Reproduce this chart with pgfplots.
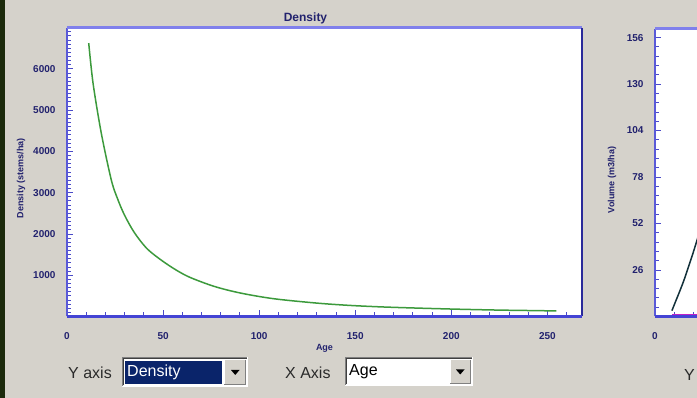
\documentclass[border=0pt]{standalone}
\usepackage{fontspec}
\setmainfont{Liberation Sans}
\usepackage{pgfplots}
\pgfplotsset{compat=1.18}
\definecolor{bg}{HTML}{D5D2CB}
\definecolor{darkstrip}{HTML}{1C2A0C}
\definecolor{navy}{HTML}{22226E}
\definecolor{tickblue}{HTML}{4A4AC8}
\definecolor{frametop}{HTML}{8080EC}
\definecolor{frameleft}{HTML}{5A5AD8}
\definecolor{framebottom}{HTML}{4444D4}
\definecolor{frameright}{HTML}{2A2A9A}
\definecolor{curvegreen}{HTML}{3C9A3C}
\definecolor{curvedark}{HTML}{12303A}
\definecolor{curvemag}{HTML}{C020C8}
\definecolor{selnavy}{HTML}{0A246A}
\definecolor{uitext}{HTML}{2A2A2A}
\definecolor{btnshadow}{HTML}{808080}
\definecolor{btndark}{HTML}{404040}

\pgfplotsset{
  chartstyle/.style={
    scale only axis,
    axis background/.style={fill=white},
    axis line style={draw=none},
    clip mode=individual,
    tick pos=left,
    tick align=inside,
    major tick length=6pt,
    minor tick length=4pt,
    tick style={draw=tickblue, line width=0.9pt},
    /pgf/number format/assume math mode=true,
    /pgf/number format/1000 sep={},
    ticklabel style={font=\fontsize{10}{11}\selectfont\bfseries, text=navy},
    yticklabel style={xshift=-8pt},
    xticklabel style={yshift=-12pt},
    label style={font=\fontsize{9}{10}\selectfont\bfseries, text=navy},
    xlabel style={at={(rel axis cs:0.5,0)}, anchor=center, yshift=-31.5pt},
  },
  framelines/.style={
    extra description/.code={
      \draw[frameleft, line width=2.4pt] (0,0) -- (0,1);
      \draw[frametop, line width=3pt] (0,1) -- (1,1);
      \draw[frameright, line width=2.6pt] (1,1) -- (1,0);
      \draw[framebottom, line width=2.4pt] (1,0) -- (0,0);
    },
  },
}

\begin{document}
\begin{tikzpicture}
\useasboundingbox (0pt,0pt) rectangle (697pt,-398pt);
\clip (0pt,0pt) rectangle (697pt,-398pt);
\fill[bg] (0pt,0pt) rectangle (697pt,-398pt);
\fill[darkstrip] (0pt,0pt) rectangle (4.5pt,-398pt);

\begin{axis}[chartstyle, framelines,
  at={(67pt,-316.5pt)}, anchor=south west,
  width=515pt, height=288.5pt,
  xmin=0, xmax=268, ymin=0, ymax=6990,
  xtick={0,50,...,250}, minor xtick={0,10,...,260},
  ytick={1000,2000,...,6000}, minor ytick={0,100,...,6900},
  xlabel={Age},
  ylabel={Density (stems/ha)},
  ylabel style={at={([xshift=-46pt]rel axis cs:0,0.48)}, anchor=center},
]
\addplot[curvegreen, line width=1.5pt, smooth, tension=0.5] coordinates {
  (11.3,6625) (13.6,5637) (17.9,4428) (23.1,3300) (26.5,2830)
  (30,2450) (35.1,2030) (42.1,1623) (52.4,1257) (62.8,973)
  (76.6,730) (90.4,567) (107.7,430) (130.2,324) (147.4,268)
  (165,230) (185,200) (205,175) (225,155) (240,145) (254.7,135)
};
\end{axis}

\begin{axis}[chartstyle, framelines,
  at={(655pt,-316.5pt)}, anchor=south west,
  width=515pt, height=287.5pt,
  xmin=0, xmax=268, ymin=0, ymax=160.8,
  xtick={0,50,...,250}, xticklabels={0},
  minor xtick={0,10,...,260},
  ytick={26,52,...,156}, minor ytick={0,5.2,...,158},
  ylabel={Volume (m3/ha)},
  ylabel style={at={([xshift=-43pt]rel axis cs:0,0.475)}, anchor=center},
]
\addplot[curvemag, line width=1.5pt] coordinates {
  (8.8,1.2) (20,1.2) (40,1.2)
};
\addplot[curvedark, line width=1.5pt, smooth] coordinates {
  (8.8,3.3) (10.9,8.9) (13.0,14.5) (15.0,20.1) (17.1,26.8)
  (19.2,33.5) (21.8,42.4) (25,54)
};
\end{axis}

\begin{scope}[x=1pt, y=-1pt]
  % title
  \node[font=\fontsize{12}{13}\selectfont\bfseries, text=navy] at (305.5,18) {Density};
  % Y axis combo
  \node[anchor=west, font=\fontsize{16}{17}\selectfont, text=uitext, inner sep=0pt] at (68,373) {Y axis};
  \fill[white] (122,357) rectangle (248,387);
  \draw[btnshadow, line width=1pt] (122.5,386.5) -- (122.5,357.5) -- (247.5,357.5);
  \draw[btndark, line width=1pt] (123.5,385.5) -- (123.5,358.5) -- (246.5,358.5);
  \draw[white, line width=1pt] (122.5,386.5) -- (247.5,386.5) -- (247.5,357.5);
  \fill[selnavy] (125,361) rectangle (222,384);
  \node[anchor=west, font=\fontsize{16}{17}\selectfont, text=white, inner sep=0pt] at (127,372.5) {Density};
  \fill[bg] (223.5,359.5) rectangle (246,385);
  \draw[white, line width=1pt] (224,384.5) -- (224,360) -- (245.5,360);
  \draw[btnshadow, line width=1pt] (224,384.5) -- (245.5,384.5) -- (245.5,360);
  \fill[black] (231,370) -- (239.5,370) -- (235.25,375) -- cycle;
  % X axis combo
  \node[anchor=west, font=\fontsize{16}{17}\selectfont, text=uitext, inner sep=0pt] at (285,373) {X Axis};
  \fill[white] (345,357) rectangle (473,386);
  \draw[btnshadow, line width=1pt] (345.5,385.5) -- (345.5,357.5) -- (472.5,357.5);
  \draw[btndark, line width=1pt] (346.5,384.5) -- (346.5,358.5) -- (471.5,358.5);
  \draw[white, line width=1pt] (345.5,385.5) -- (472.5,385.5) -- (472.5,357.5);
  \node[anchor=west, font=\fontsize{16}{17}\selectfont, text=black, inner sep=0pt] at (349,372) {Age};
  \fill[bg] (449.5,359.5) rectangle (471,384);
  \draw[white, line width=1pt] (450,383.5) -- (450,360) -- (470.5,360);
  \draw[btnshadow, line width=1pt] (450,383.5) -- (470.5,383.5) -- (470.5,360);
  \fill[black] (456,369.5) -- (464.5,369.5) -- (460.25,374.5) -- cycle;
  % right panel control label (cut off at the edge in the reference)
  \node[anchor=west, font=\fontsize{16}{17}\selectfont, text=uitext, inner sep=0pt] at (684,375) {Y};
\end{scope}
\end{tikzpicture}
\end{document}
